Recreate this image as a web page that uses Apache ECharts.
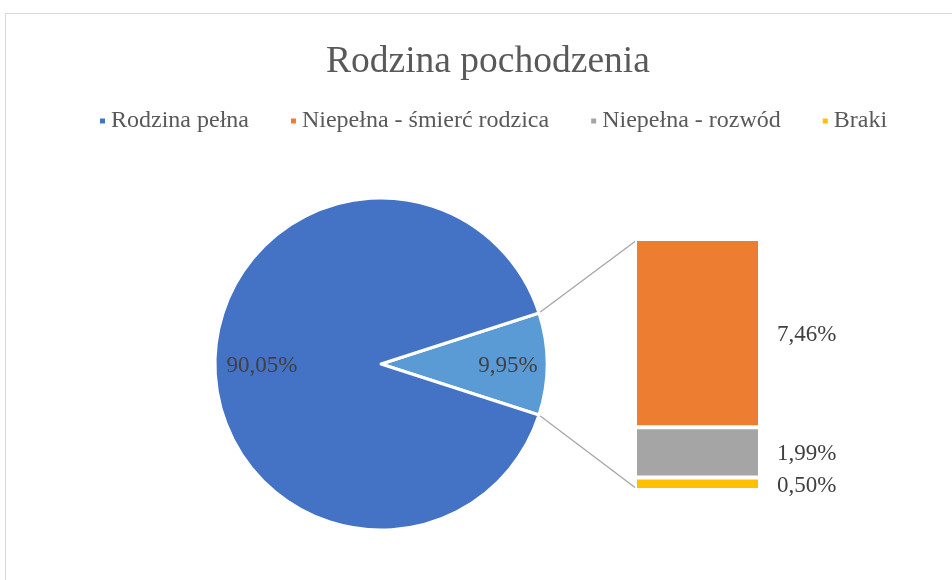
<!DOCTYPE html>
<html><head><meta charset="utf-8">
<script src="https://cdn.jsdelivr.net/npm/echarts@6/dist/echarts.min.js"></script>
<style>html,body{margin:0;padding:0;background:#fff}#c{width:952px;height:580px}</style>
</head><body><div id="c"></div>
<script>
const title = 'Rodzina pochodzenia';
const pieNames = ['Inne', 'Rodzina pełna'];
const pieValues = [9.95, 90.05];
const pieLabels = ['9,95%', '90,05%'];
const barNames = ['Braki', 'Niepełna - rozwód', 'Niepełna - śmierć rodzica'];
const barValues = [0.50, 1.99, 7.46];
const barLabels = ['0,50%', '1,99%', '7,46%'];
const legendOrder = ['Rodzina pełna', 'Niepełna - śmierć rodzica', 'Niepełna - rozwód', 'Braki'];

const barColors = ['#FFC000', '#A5A5A5', '#ED7D31'];
const pieColors = ['#5B9BD5', '#4472C4'];
const FONT = '"Liberation Serif", "Times New Roman", serif';
const pieCenter = [381, 364], pieR = 166;
const half = pieValues[0] / 100 * 180;
const barTotal = barValues.reduce((a, b) => a + b, 0);

const chart = echarts.init(document.getElementById('c'));
const option = {
  animation: false,
  title: { text: title, left: 321, top: 38, textStyle: { fontFamily: FONT, fontSize: 37.5, fontWeight: 'normal', color: '#595959' } },
  legend: {
    data: legendOrder, top: 104, left: 93, icon: 'rect', itemWidth: 7, itemHeight: 7, itemGap: 40,
    textStyle: { fontFamily: FONT, fontSize: 24, color: '#595959' }
  },
  grid: { left: 635, top: 239, width: 125, height: 251 },
  xAxis: { type: 'category', data: ['x'], show: false },
  yAxis: { type: 'value', min: 0, max: barTotal, show: false },
  series: [
    {
      type: 'pie', center: pieCenter, radius: pieR, startAngle: half, clockwise: true,
      itemStyle: { borderColor: '#fff', borderWidth: 3 },
      label: { show: true, position: 'inside', fontFamily: FONT, fontSize: 23, color: '#404040',
        formatter: p => pieLabels[p.dataIndex] },
      emphasis: { disabled: true },
      data: pieNames.map((n, i) => ({
        name: n, value: pieValues[i], itemStyle: { color: pieColors[i] },
        label: { offset: i === 0 ? [41, 2] : [-33, 2] }
      }))
    },
    ...barNames.map((n, i) => ({
      type: 'bar', name: n, stack: 's', barWidth: '100%', data: [barValues[i]],
      itemStyle: { color: barColors[i], borderColor: '#fff', borderWidth: 2 },
      label: { show: true, position: 'right', distance: 17, fontFamily: FONT, fontSize: 23, color: '#404040',
        formatter: () => barLabels[i], offset: [0, 2] },
      emphasis: { disabled: true }
    }))
  ]
};
chart.setOption(option);

const rad = half * Math.PI / 180;
const pTop = [pieCenter[0] + pieR * Math.cos(rad), pieCenter[1] - pieR * Math.sin(rad)];
const pBot = [pieCenter[0] + pieR * Math.cos(rad), pieCenter[1] + pieR * Math.sin(rad)];
const gTop = chart.convertToPixel({ gridIndex: 0 }, [0, barTotal]);
const gBot = chart.convertToPixel({ gridIndex: 0 }, [0, 0]);
const barLeft = option.grid.left + 2;
chart.setOption({
  graphic: [
    { type: 'rect', shape: { x: 5.5, y: 13.5, width: 1200, height: 1200 }, style: { fill: null, stroke: '#d9d9d9', lineWidth: 1 }, silent: true, z: -1 },
    { type: 'line', shape: { x1: pTop[0], y1: pTop[1], x2: barLeft, y2: gTop[1] + 1 }, style: { stroke: '#A5A5A5', lineWidth: 1.3 }, silent: true },
    { type: 'line', shape: { x1: pBot[0], y1: pBot[1], x2: barLeft, y2: gBot[1] - 1 }, style: { stroke: '#A5A5A5', lineWidth: 1.3 }, silent: true }
  ]
});
</script></body></html>
